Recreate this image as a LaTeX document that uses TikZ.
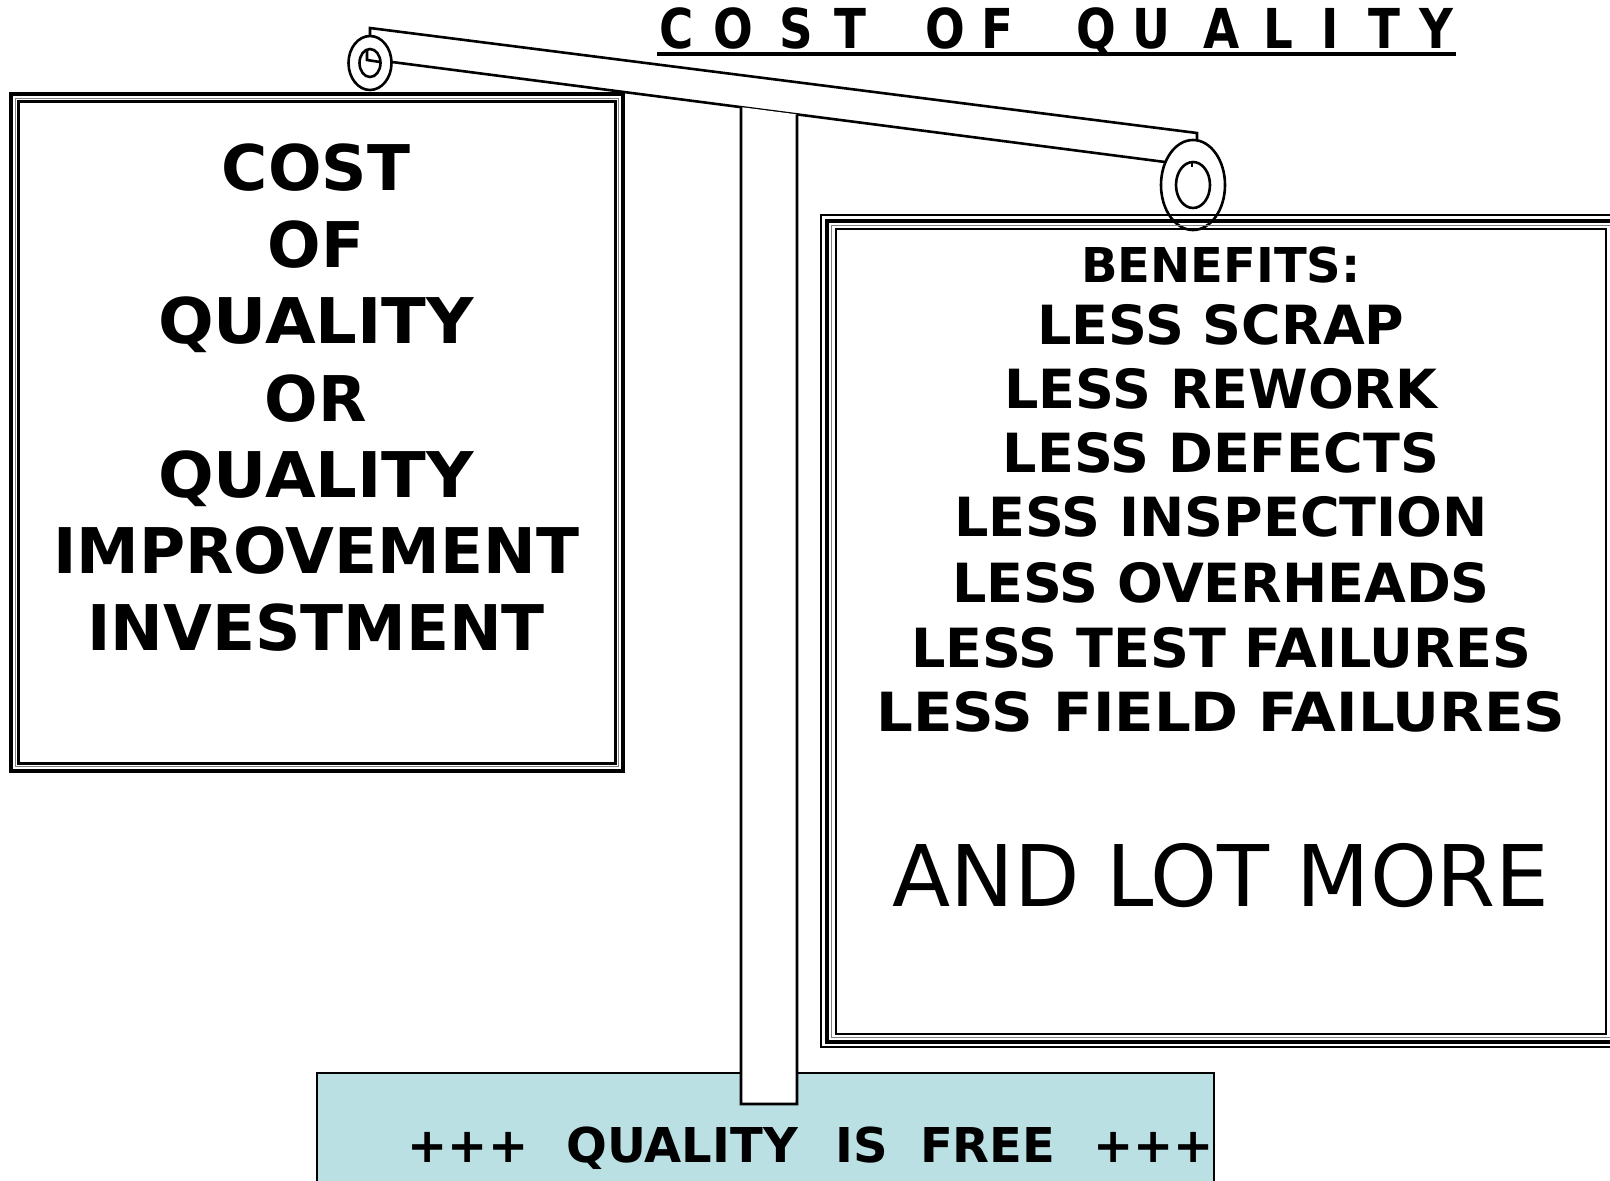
\documentclass[tikz,border=0pt]{standalone}
\usepackage{fontspec}
\setmainfont{DejaVu Sans}
\usetikzlibrary{calc}
\definecolor{freeblue}{RGB}{186,224,227}

\begin{document}
\begin{tikzpicture}[x=1pt,y=-1pt,line width=2.6pt,
  bigtxt/.style={font=\fontsize{63}{63}\selectfont\bfseries, anchor=base, inner sep=0pt},
  gaintxt/.style={font=\fontsize{54}{54}\selectfont\bfseries, anchor=base, inner sep=0pt},
  titlech/.style={font=\fontsize{55}{55}\selectfont\bfseries, anchor=base, inner sep=0pt, xscale=0.85}]
  \useasboundingbox (0,0) rectangle (1610,1181);

  % base
  \draw [fill=freeblue] (317,1073) rectangle (1214,1200);
  \node [font=\fontsize{48}{48}\selectfont\bfseries, anchor=base, inner sep=0pt] (free) at (811,1162)
    {+++\hspace{38pt}QUALITY\hspace{38pt}IS\hspace{32pt}FREE\hspace{38pt}+++};

  % beam
  \coordinate (tl) at (370,28);
  \coordinate (tr) at (1197,133);
  \coordinate (bl) at (392,62);
  \coordinate (br) at (1165,162);
  \draw (370,36) -- (tl) -- (tr) -- (1197,140);
  \draw (bl) -- (br);

  % post
  \coordinate (pl) at (intersection of bl--br and 741,0--741,200);
  \coordinate (pr) at (intersection of bl--br and 797,0--797,200);
  \draw [fill=white] (pl) -- (741,1104) -- (797,1104) -- (pr);

  % pivots
  \coordinate (lp) at (370,63);
  \draw (lp) ellipse [x radius=21.5, y radius=27];
  \draw (lp) ellipse [x radius=10.5, y radius=14];
  \draw (367,50) -- (367,60) -- (380,62);
  \coordinate (rp) at (1193,185);
  \draw (rp) ellipse [x radius=32, y radius=45];
  \draw (rp) ellipse [x radius=17, y radius=23];
  \draw (1192,162) -- (1192,167);

  % left pan
  \draw [line width=3.5pt] (11,94) rectangle (623,771);
  \draw [gray, line width=1pt] (15.5,98.5) rectangle (618.5,766.5);
  \draw [line width=2.8pt] (18.5,101.5) rectangle (615.5,763.5);
  \node [bigtxt] (l1) at (316,190) {COST};
  \node [bigtxt] (l2) at (316,267) {OF};
  \node [bigtxt, xscale=1.04] (l3) at (316,343) {QUALITY};
  \node [bigtxt] (l4) at (316,421) {OR};
  \node [bigtxt, xscale=1.04] (l5) at (316,497) {QUALITY};
  \node [bigtxt] (l6) at (316,573) {IMPROVEMENT};
  \node [bigtxt] (l7) at (316,650) {INVESTMENT};

  % right pan
  \draw [line width=1.6pt] (821,215) rectangle (1640,1047);
  \draw [line width=4pt] (826.5,220.5) rectangle (1634,1041.5);
  \draw [gray, line width=1pt] (831,225) rectangle (1630,1037);
  \draw [line width=2.8pt] (836,229) rectangle (1606,1034);
  \node [font=\fontsize{48}{48}\selectfont\bfseries, anchor=base, inner sep=0pt] (r0) at (1221,282) {BENEFITS:};
  \node [gaintxt] (r1) at (1221,344) {LESS SCRAP};
  \node [gaintxt] (r2) at (1221,408) {LESS REWORK};
  \node [gaintxt] (r3) at (1221,472) {LESS DEFECTS};
  \node [gaintxt] (r4) at (1221,536) {LESS INSPECTION};
  \node [gaintxt] (r5) at (1221,602) {LESS OVERHEADS};
  \node [gaintxt] (r6) at (1221,667) {LESS TEST FAILURES};
  \node [gaintxt, xscale=1.07] (r7) at (1221,731) {LESS FIELD FAILURES};
  \node [font=\fontsize{85}{85}\selectfont, anchor=base, inner sep=0pt] (more) at (1221,906) {AND LOT MORE};

  % title
  \foreach \ch/\cx [count=\i] in {C/677, O/733, S/796, T/850, O/945, F/997,
      Q/1096, U/1151, A/1222, L/1278, I/1330, T/1384, Y/1436}
    \node [titlech] (t\i) at (\cx,48) {\ch};
  \draw [line width=3.5pt] (657,54) -- (1456,54);

\end{tikzpicture}
\end{document}
